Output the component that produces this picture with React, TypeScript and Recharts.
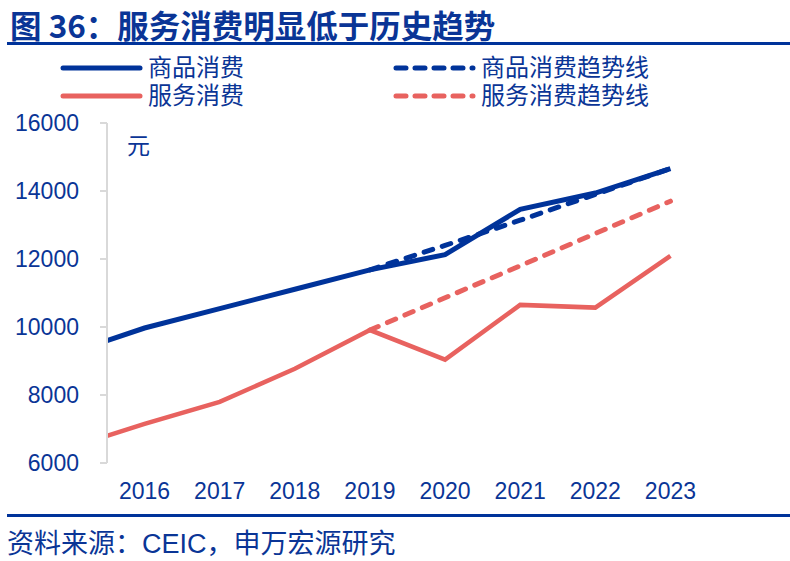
import React from "react";
import { LineChart, Line, XAxis, YAxis } from "recharts";

const startPos = 2015.5;
const years = [2016, 2017, 2018, 2019, 2020, 2021, 2022, 2023];
const goods = [9600, 9970, 10540, 11110, 11680, 12130, 13460, 13940, 14660];
const services = [6800, 7150, 7800, 8770, 9910, 9040, 10650, 10570, 12090];
const goodsTrend = [null, null, null, null, 11680, 12400, 13140, 13900, 14660];
const servicesTrend = [null, null, null, null, 9910, 10860, 11800, 12750, 13700];
const yTicks = [6000, 8000, 10000, 12000, 14000, 16000];
const edgeTicks = [2015.5, 2016.5, 2017.5, 2018.5, 2019.5, 2020.5, 2021.5, 2022.5, 2023.5];

const BLUE = "#00339a";
const RED = "#e8625f";
const TEXT = "#0a3596";
const CJK = "'Noto Sans CJK SC', 'Liberation Sans', sans-serif";
// latin font first keeps the inline box short; CJK glyphs fall back to Noto
const LEGEND_FONT = "'Liberation Sans', 'Noto Sans CJK SC', sans-serif";

const positions = [startPos, ...years];
const data = positions.map((x, i) => ({
  x,
  goods: goods[i],
  services: services[i],
  goodsTrend: goodsTrend[i],
  servicesTrend: servicesTrend[i],
}));

const legendItems = [
  { name: "商品消费", color: BLUE, dashed: false, left: 60, top: 56 },
  { name: "服务消费", color: RED, dashed: false, left: 60, top: 84 },
  { name: "商品消费趋势线", color: BLUE, dashed: true, left: 393, top: 56 },
  { name: "服务消费趋势线", color: RED, dashed: true, left: 393, top: 84 },
];

function LegendItem({ item }: { item: (typeof legendItems)[number] }) {
  return (
    <div style={{ position: "absolute", left: item.left, top: item.top, display: "flex", alignItems: "center", height: 24 }}>
      <svg width={83} height={10}>
        <line
          x1={3}
          y1={5}
          x2={80}
          y2={5}
          stroke={item.color}
          strokeWidth={5}
          strokeLinecap="round"
          strokeDasharray={item.dashed ? "10 9" : undefined}
        />
      </svg>
      <span style={{ marginLeft: 5, fontSize: 24, color: TEXT, fontFamily: LEGEND_FONT, lineHeight: "24px", whiteSpace: "nowrap" }}>
        {item.name}
      </span>
    </div>
  );
}

export default function App() {
  return (
    <div style={{ position: "absolute", left: 0, top: 0, width: 790, height: 561, background: "#fff", overflow: "hidden" }}>
      <div
        style={{
          position: "absolute",
          left: 10,
          top: 4,
          fontSize: 31.5,
          fontWeight: 700,
          color: TEXT,
          fontFamily: CJK,
          lineHeight: "40px",
          whiteSpace: "nowrap",
        }}
      >
        图 36：服务消费明显低于历史趋势
      </div>
      <div style={{ position: "absolute", left: 7, top: 42, width: 783, height: 3, background: BLUE }} />
      {legendItems.map((item) => (
        <LegendItem key={item.name} item={item} />
      ))}
      <div style={{ position: "absolute", left: 127, top: 130, fontSize: 23, color: TEXT, fontFamily: CJK, lineHeight: "28px" }}>元</div>
      <LineChart width={790} height={561} data={data} margin={{ top: 123, right: 82, bottom: 48, left: 0 }}>
        <XAxis
          xAxisId="edges"
          dataKey="x"
          type="number"
          domain={[2015.5, 2023.5]}
          ticks={edgeTicks}
          tick={false}
          height={0}
          tickSize={7}
          axisLine={{ stroke: "#d9d9d9", strokeWidth: 2 }}
          tickLine={{ stroke: "#d9d9d9", strokeWidth: 2 }}
          allowDataOverflow
        />
        <XAxis
          xAxisId="labels"
          dataKey="x"
          type="number"
          domain={[2015.5, 2023.5]}
          ticks={years}
          height={50}
          tickSize={0}
          tickMargin={20}
          axisLine={false}
          tickLine={false}
          interval={0}
          tick={{ fill: TEXT, fontSize: 23, fontFamily: "'Liberation Sans', Arial, sans-serif" }}
        />
        <YAxis
          domain={[6000, 16000]}
          ticks={yTicks}
          width={107}
          tickSize={7}
          tickMargin={21}
          interval={0}
          axisLine={{ stroke: "#d9d9d9", strokeWidth: 2 }}
          tickLine={{ stroke: "#d9d9d9", strokeWidth: 2 }}
          tick={{ fill: TEXT, fontSize: 23, fontFamily: "'Liberation Sans', Arial, sans-serif" }}
        />
        <Line xAxisId="edges" dataKey="services" stroke={RED} strokeWidth={4.5} dot={false} isAnimationActive={false} />
        <Line
          xAxisId="edges"
          dataKey="servicesTrend"
          stroke={RED}
          strokeWidth={5}
          strokeDasharray="9 10"
          strokeLinecap="round"
          dot={false}
          isAnimationActive={false}
        />
        <Line xAxisId="edges" dataKey="goods" stroke={BLUE} strokeWidth={5} dot={false} isAnimationActive={false} />
        <Line
          xAxisId="edges"
          dataKey="goodsTrend"
          stroke={BLUE}
          strokeWidth={5}
          strokeDasharray="9 10"
          strokeLinecap="round"
          dot={false}
          isAnimationActive={false}
        />
      </LineChart>
      <div style={{ position: "absolute", left: 7, top: 514, width: 783, height: 3, background: BLUE }} />
      <div
        style={{
          position: "absolute",
          left: 7,
          top: 528,
          fontSize: 27,
          color: TEXT,
          fontFamily: LEGEND_FONT,
          lineHeight: "32px",
          whiteSpace: "nowrap",
        }}
      >
        资料来源：CEIC，申万宏源研究
      </div>
    </div>
  );
}
